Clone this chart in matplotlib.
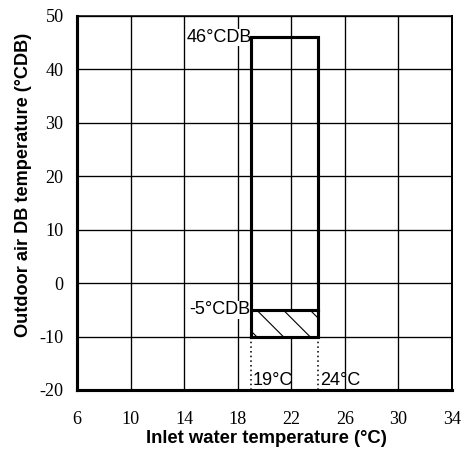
import matplotlib
matplotlib.use("Agg")
import matplotlib.pyplot as plt
from matplotlib.patches import Rectangle

plt.rcParams["axes.unicode_minus"] = False

# Campo de operação (aquecimento)
x_ticks = [6, 10, 14, 18, 22, 26, 30, 34]
y_ticks = [-20, -10, 0, 10, 20, 30, 40, 50]
agua_min, agua_max = 19, 24          # Inlet water temperature (°C)
ar_min, ar_max = -10, 46             # Outdoor air DB (°CDB)
ar_limite = -5                       # limite da área hachurada
rotulo_max = "46°CDB"
rotulo_limite = "-5°CDB"
rotulo_agua = ["19°C", "24°C"]

# dpi 80 -> espaçamento do hachurado parecido com o original
fig = plt.figure(figsize=(468 / 80, 455 / 80), dpi=80)
ax = fig.add_axes([77 / 468, 1 - 390 / 455, 375 / 468, 374 / 455])

ax.set_xlim(x_ticks[0], x_ticks[-1])
ax.set_ylim(y_ticks[0], y_ticks[-1])
ax.set_xticks(x_ticks)
ax.set_yticks(y_ticks)
ax.grid(True, color="black", linewidth=1.2)
ax.set_axisbelow(True)
ax.tick_params(length=0, labelsize=16.3)
ax.tick_params(axis="x", pad=19)
ax.tick_params(axis="y", pad=12)
for lab in ax.get_xticklabels() + ax.get_yticklabels():
    lab.set_fontfamily("Liberation Serif")

ax.spines["left"].set_linewidth(2.8)
ax.spines["bottom"].set_linewidth(2.8)
ax.spines["top"].set_linewidth(1.4)
ax.spines["right"].set_linewidth(1.8)

# Área hachurada
ax.add_patch(Rectangle((agua_min, ar_min), agua_max - agua_min, ar_limite - ar_min,
                       facecolor="white", edgecolor="black", hatch="\\",
                       linewidth=0, zorder=3))
# Contorno do campo de operação
ax.plot([agua_min, agua_min, agua_max, agua_max, agua_min],
        [ar_min, ar_max, ar_max, ar_min, ar_min],
        color="black", linewidth=2.8, zorder=4, solid_joinstyle="miter")
ax.plot([agua_min, agua_max], [ar_limite, ar_limite],
        color="black", linewidth=2.8, zorder=4)
# Linhas pontilhadas até o eixo
for xv in (agua_min, agua_max):
    ax.plot([xv, xv], [ar_min, y_ticks[0]], color="black", linewidth=1.4,
            linestyle=(0, (1, 2)), zorder=4)

caixa = dict(facecolor="white", edgecolor="none", pad=0.3)
ax.text(agua_min + 0.05, ar_max, rotulo_max, ha="right", va="center",
        fontsize=16.2, family="Liberation Sans", bbox=caixa, zorder=3.5)
ax.text(agua_min - 0.05, ar_limite, rotulo_limite, ha="right", va="center",
        fontsize=16.2, family="Liberation Sans", bbox=caixa, zorder=3.5)
for xv, txt in zip((agua_min, agua_max), rotulo_agua):
    ax.text(xv + 0.15, -18.2, txt, ha="left", va="center",
            fontsize=16.2, family="Liberation Sans", zorder=5)

ax.set_xlabel("Inlet water temperature (°C)", fontsize=16.6, fontweight="bold",
              family="Liberation Sans")
ax.xaxis.set_label_coords(0.505, -0.106)
ax.set_ylabel("Outdoor air DB temperature (°CDB)", fontsize=16.3, fontweight="bold",
              family="Liberation Sans")
ax.yaxis.set_label_coords(-0.12, 0.548)

fig.savefig("out.png", dpi=80)
